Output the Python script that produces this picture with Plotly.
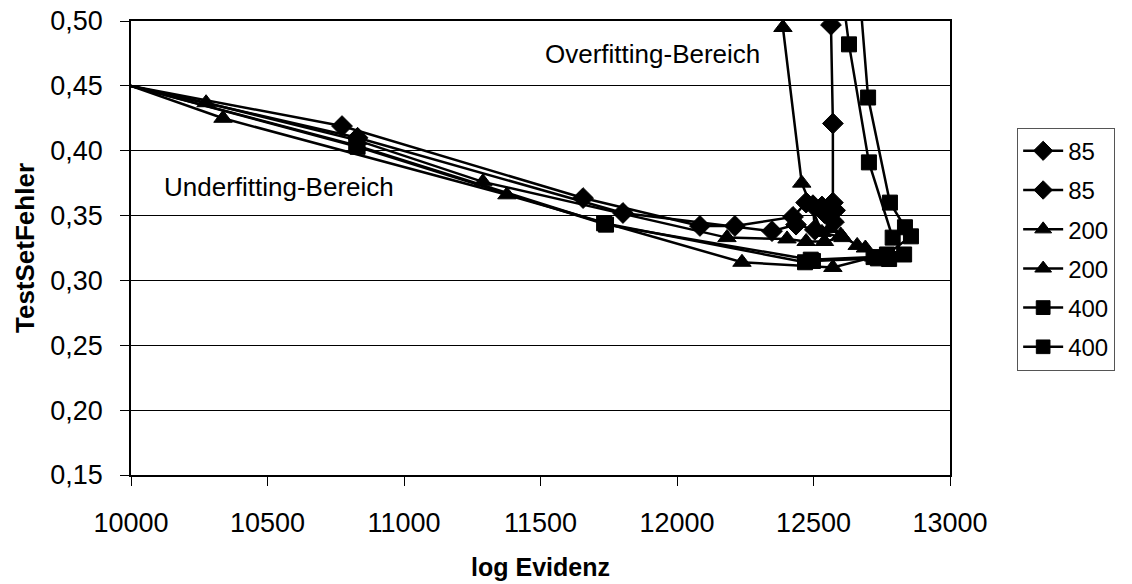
import plotly.graph_objects as go

# ---- data ----
d1_x = [10000, 10773, 11656, 12084, 12212, 12425, 12473, 12531, 12579, 12571, 12571, 12564, 12555]
d1_y = [0.450, 0.419, 0.3635, 0.342, 0.342, 0.349, 0.360, 0.357, 0.354, 0.360, 0.421, 0.497, 0.560]

d2_x = [10000, 10830, 11802, 12348, 12436, 12505, 12498, 12540, 12575]
d2_y = [0.450, 0.410, 0.352, 0.338, 0.343, 0.339, 0.358, 0.352, 0.345]

t1_x = [10000, 10275, 10830, 11289, 12183, 12403, 12473, 12540, 12608, 12531, 12457, 12388]
t1_y = [0.450, 0.437, 0.408, 0.376, 0.333, 0.332, 0.330, 0.330, 0.333, 0.337, 0.375, 0.495]

t2_x = [10000, 10337, 11377, 12238, 12571, 12720, 12745, 12690, 12660, 12600, 12560]
t2_y = [0.450, 0.425, 0.366, 0.314, 0.310, 0.318, 0.316, 0.325, 0.327, 0.335, 0.340]

s1_x = [10000, 10825, 11733, 12469, 12498, 12736, 12769, 12857, 12835, 12780, 12700, 12662]
s1_y = [0.450, 0.404, 0.344, 0.314, 0.315, 0.317, 0.320, 0.334, 0.341, 0.360, 0.441, 0.540]

s2_x = [10000, 10830, 11740, 12490, 12720, 12777, 12832, 12790, 12703, 12630, 12600]
s2_y = [0.450, 0.403, 0.343, 0.316, 0.318, 0.3165, 0.320, 0.333, 0.391, 0.482, 0.530]

series_names = ["85", "85", "200", "200", "400", "400"]
series_x = [d1_x, d2_x, t1_x, t2_x, s1_x, s2_x]
series_y = [d1_y, d2_y, t1_y, t2_y, s1_y, s2_y]
symbols = ["diamond", "diamond", "triangle-up", "triangle-up", "square", "square"]
msizes = [16, 16, 16, 16, 15, 15]

y_ticks = [0.15, 0.20, 0.25, 0.30, 0.35, 0.40, 0.45, 0.50]
x_ticks = [10000, 10500, 11000, 11500, 12000, 12500, 13000]

FONT = "Liberation Sans, Arial, sans-serif"

fig = go.Figure()
for i, (nm, xs, ys, sym, ms) in enumerate(zip(series_names, series_x, series_y, symbols, msizes)):
    sizes = [0] + [ms] * (len(xs) - 1)
    fig.add_trace(go.Scatter(
        x=xs, y=ys, name=nm, mode="lines+markers",
        line=dict(color="black", width=2.5),
        marker=dict(symbol=sym, size=sizes, color="black", opacity=1,
                    line=dict(width=1, color="black")),
        legendgroup="g%d" % i,
    ))

fig.add_annotation(x=11509, y=0.4745, xref="x", yref="y", text="Overfitting-Bereich",
                   showarrow=False, xanchor="left", yanchor="middle",
                   font=dict(family=FONT, size=26, color="black"))
fig.add_annotation(x=10113, y=0.372, xref="x", yref="y", text="Underfitting-Bereich",
                   showarrow=False, xanchor="left", yanchor="middle",
                   font=dict(family=FONT, size=26, color="black"))

fig.update_layout(
    width=1132, height=584,
    margin=dict(l=131, r=182, t=21, b=109),
    paper_bgcolor="white", plot_bgcolor="white",
    separators=",.",
    font=dict(family=FONT, color="black"),
    showlegend=True,
    legend=dict(x=1.082, y=0.765, xanchor="left", yanchor="top",
                bordercolor="#555555", borderwidth=1,
                font=dict(family=FONT, size=24, color="black"),
                tracegroupgap=5, itemwidth=40),
)
fig.update_xaxes(
    range=[10000, 13000], tickvals=x_ticks, tickformat="d",
    showgrid=False, zeroline=False, automargin=False,
    showline=True, linecolor="black", linewidth=1.5, mirror=True,
    ticks="outside", ticklen=9, tickcolor="black",
    tickfont=dict(family=FONT, size=27, color="black"),
    ticklabelstandoff=14,
    title=dict(text="<b>log Evidenz</b>", font=dict(family=FONT, size=25, color="black"), standoff=21),
)
fig.update_yaxes(
    range=[0.15, 0.50], tickvals=y_ticks, tickformat=".2f",
    showgrid=True, gridcolor="black", gridwidth=1, zeroline=False, automargin=False,
    showline=True, linecolor="black", linewidth=1.5, mirror=True,
    ticks="outside", ticklen=9, tickcolor="black",
    tickfont=dict(family=FONT, size=27, color="black"),
    ticklabelstandoff=12,
    title=dict(text="<b>TestSetFehler</b>", font=dict(family=FONT, size=26, color="black"), standoff=8),
)

fig.write_html("out.html")
